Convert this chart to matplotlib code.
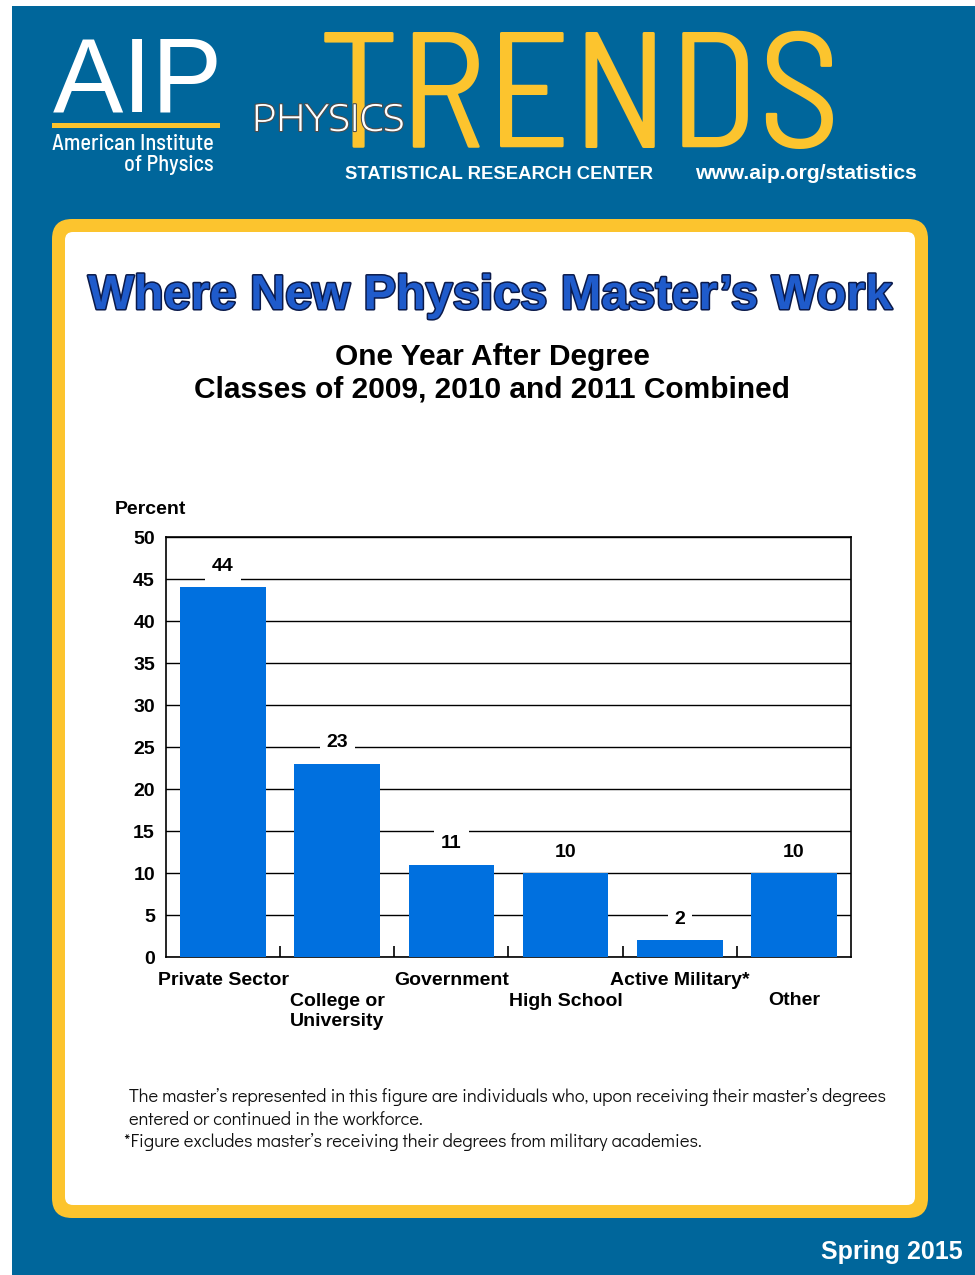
import matplotlib
matplotlib.use("Agg")
import matplotlib.pyplot as plt
import matplotlib.patches as patches
import matplotlib.patheffects as pe

W, H = 975, 1275

categories = ["Private Sector", "College or\nUniversity", "Government",
              "High School", "Active Military*", "Other"]
percent = [44, 23, 11, 10, 2, 10]
yticks = [0, 5, 10, 15, 20, 25, 30, 35, 40, 45, 50]

BLUE_BG = "#00669B"
YELLOW = "#FCC42E"
BAR = "#0070DF"
TITLE_BLUE = "#1F5BCB"

SANS = ["Liberation Sans", "DejaVu Sans"]
NARROW = ["Barlow Semi Condensed", "Liberation Sans"]
GOTHIC = ["Didact Gothic", "DejaVu Sans"]
WIDE = ["Encode Sans Expanded", "Lato", "DejaVu Sans"]

fig = plt.figure(figsize=(W / 100, H / 100), dpi=100, facecolor="white")

# full-figure canvas in pixel units (y grows downward)
bg = fig.add_axes([0, 0, 1, 1], zorder=0)
bg.set_xlim(0, W)
bg.set_ylim(H, 0)
bg.axis("off")

bg.add_patch(patches.Rectangle((12, 6), W - 12, H - 6, fc=BLUE_BG, ec="none"))
bg.add_patch(patches.FancyBboxPatch((52, 219), 876, 999, boxstyle="round,pad=0,rounding_size=20",
                                    fc=YELLOW, ec="none"))
bg.add_patch(patches.FancyBboxPatch((65, 232), 850, 973, boxstyle="round,pad=0,rounding_size=8",
                                    fc="white", ec="none"))

# header
bg.text(318, 148, "TRENDS", color=YELLOW, fontsize=119, family=NARROW, fontweight=400,
        ha="left", va="baseline")
bg.text(252, 131, "PHYSICS", color="white", fontsize=26, family=WIDE, fontweight=300,
        ha="left", va="baseline",
        path_effects=[pe.withStroke(linewidth=1.6, foreground="#4d4d4d")])
bg.text(53, 112, "AIP", color="white", fontsize=76, family=SANS, ha="left", va="baseline")
bg.add_patch(patches.Rectangle((52, 123), 168, 5, fc=YELLOW, ec="none"))
bg.text(214, 150, "American Institute", color="white", fontsize=16, family=NARROW,
        fontweight=500, ha="right", va="baseline")
bg.text(214, 171, "of Physics", color="white", fontsize=16, family=NARROW,
        fontweight=500, ha="right", va="baseline")
bg.text(345, 179, "STATISTICAL RESEARCH CENTER", color="white", fontsize=13.3, family=SANS,
        fontweight="bold", ha="left", va="baseline")
bg.text(695, 179, "www.aip.org/statistics", color="white", fontsize=15.2, family=SANS,
        fontweight="bold", ha="left", va="baseline")

# titles
bg.text(490, 309, "Where New Physics Master\u2019s Work", color=TITLE_BLUE, fontsize=35,
        family=SANS, fontweight="bold", ha="center", va="baseline",
        path_effects=[pe.withStroke(linewidth=2.2, foreground="#0b1a4a")])
bg.text(492, 365, "One Year After Degree", fontsize=21.5, family=SANS, fontweight="bold",
        ha="center", va="baseline")
bg.text(492, 398, "Classes of 2009, 2010 and 2011 Combined", fontsize=21.5, family=SANS,
        fontweight="bold", ha="center", va="baseline")
bg.text(115, 514, "Percent", fontsize=14, family=SANS, fontweight="bold", ha="left",
        va="baseline")

# footnotes
notes = [
    (129, 1102, "The master\u2019s represented in this figure are individuals who, upon receiving their master\u2019s degrees"),
    (129, 1125, "entered or continued in the workforce."),
    (124, 1147, "*Figure excludes master\u2019s receiving their degrees from military academies."),
]
for x, y, s in notes:
    bg.text(x, y, s, fontsize=13.2, family=GOTHIC, ha="left", va="baseline", color="#111111")

bg.text(963, 1259, "Spring 2015", color="white", fontsize=18, family=SANS, fontweight="bold",
        ha="right", va="baseline")

# chart
ax = fig.add_axes([166 / W, 1 - 957 / H, 685 / W, 420 / H], zorder=2)
ax.set_facecolor("white")
xs = list(range(len(categories)))
ax.bar(xs, percent, width=0.75, color=BAR, zorder=3)
ax.set_xlim(-0.5, len(categories) - 0.5)
ax.set_ylim(0, 50)
ax.set_yticks(yticks)
ax.set_yticklabels([str(v) for v in yticks], fontsize=14, fontweight="bold", family=SANS)
ax.tick_params(axis="y", length=0, pad=8)
ax.yaxis.grid(True, color="black", linewidth=1.0, zorder=1)
ax.set_axisbelow(True)
for s in ax.spines.values():
    s.set_color("black")
    s.set_linewidth(1.2)

ax.set_xticks(xs)
ax.set_xticklabels([])
ax.tick_params(axis="x", which="major", length=0)
ax.set_xticks([x + 0.5 for x in xs[:-1]], minor=True)
ax.tick_params(axis="x", which="minor", direction="in", length=8, width=1.2, color="black")

for i, (name, v) in enumerate(zip(categories, percent)):
    off = -11 if i % 2 == 0 else -26
    if i == len(categories) - 1:
        off = -25
    ax.annotate(name, xy=(i, 0), xycoords=("data", "axes fraction"), xytext=(0, off),
                textcoords="offset points", ha="center", va="top", fontsize=14,
                fontweight="bold", family=SANS, multialignment="left", annotation_clip=False)
    ax.annotate(str(v), xy=(i, v), xytext=(0, 15), textcoords="offset points",
                ha="center", va="center", fontsize=14, fontweight="bold", family=SANS,
                bbox=dict(boxstyle="square,pad=0.35", fc="white", ec="none"), zorder=4)

fig.savefig("out.png", dpi=100, facecolor=fig.get_facecolor())
